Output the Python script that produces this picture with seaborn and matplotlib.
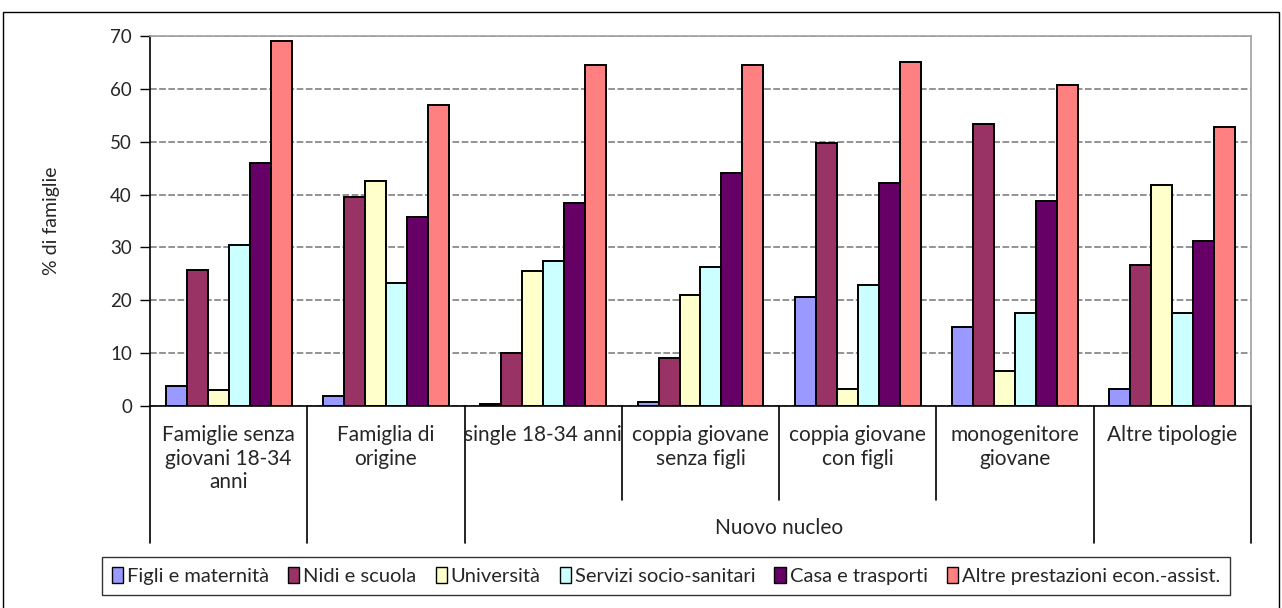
import matplotlib
matplotlib.use("Agg")
import matplotlib.pyplot as plt
import matplotlib.patches as mpatches
import matplotlib.transforms as mtransforms
import numpy as np
import pandas as pd
import seaborn as sns

categories = [
    "Famiglie senza\ngiovani 18-34\nanni",
    "Famiglia di\norigine",
    "single 18-34 anni",
    "coppia giovane\nsenza figli",
    "coppia giovane\ncon figli",
    "monogenitore\ngiovane",
    "Altre tipologie",
]
group_label = "Nuovo nucleo"
series = [
    "Figli e maternità",
    "Nidi e scuola",
    "Università",
    "Servizi socio-sanitari",
    "Casa e trasporti",
    "Altre prestazioni econ.-assist.",
]
figli_maternita = [3.8, 1.9, 0.4, 0.8, 20.7, 15.0, 3.3]
nidi_scuola = [25.7, 39.6, 10.1, 9.0, 49.7, 53.4, 26.7]
universita = [3.0, 42.6, 25.6, 21.0, 3.3, 6.7, 41.8]
servizi = [30.4, 23.3, 27.5, 26.3, 22.9, 17.6, 17.6]
casa_trasporti = [46.0, 35.8, 38.4, 44.1, 42.2, 38.8, 31.3]
altre_prestazioni = [69.0, 56.9, 64.5, 64.5, 65.1, 60.7, 52.7]
y_ticks = [0, 10, 20, 30, 40, 50, 60, 70]
y_label = "% di famiglie"

colors = ["#9999FF", "#993366", "#FFFFCC", "#CCFFFF", "#660066", "#FF8080"]

values = [figli_maternita, nidi_scuola, universita, servizi, casa_trasporti, altre_prestazioni]
df = pd.DataFrame(
    [(c, s, v) for s, vals in zip(series, values) for c, v in zip(categories, vals)],
    columns=["categoria", "serie", "valore"],
)

sns.set_style("white")
plt.rcParams["font.family"] = ["Lato", "DejaVu Sans"]

W, H = 1282, 608
fig = plt.figure(figsize=(W / 100, H / 100), dpi=100)

# outer chart frame
fig.patches.append(mpatches.Rectangle((3 / W, -0.01), 1276 / W, (H - 12) / H + 0.01,
                                      transform=fig.transFigure, fill=False,
                                      edgecolor="black", linewidth=1.0))

left, right, top, bottom = 150, 1251, 36, 406
ax = fig.add_axes([left / W, (H - bottom) / H, (right - left) / W, (bottom - top) / H])

sns.barplot(data=df, x="categoria", y="valore", hue="serie", order=categories,
            hue_order=series, palette=colors, edgecolor="black", linewidth=1.4,
            width=0.8, gap=0, saturation=1, ax=ax, legend=False, errorbar=None)

ax.set_ylim(0, 70)
ax.set_xlim(-0.5, len(categories) - 0.5)
ax.set_yticks(y_ticks)
ax.set_yticklabels([str(t) for t in y_ticks], fontsize=13.5)
ax.tick_params(axis="y", length=7, width=1, color="black", pad=6, left=True, direction="out")
ax.set_xticks([])
ax.set_xlabel("")
ax.set_ylabel(y_label, fontsize=14, labelpad=36)
ax.yaxis.grid(True, color="#808080", linestyle=(0, (4, 1.5)), linewidth=1.2)
ax.set_axisbelow(True)
for side in ["left", "bottom"]:
    ax.spines[side].set_color("black")
    ax.spines[side].set_linewidth(1.2)
for side in ["top", "right"]:
    ax.spines[side].set_visible(True)
    ax.spines[side].set_color("#A0A0A0")
    ax.spines[side].set_linewidth(1.2)

# multi-level category axis
trans = mtransforms.blended_transform_factory(ax.transData, ax.transAxes)
px = 1.0 / (bottom - top)
long_sep = [-0.5, 0.5, 1.5, 5.5, 6.5]
short_sep = [2.5, 3.5, 4.5]
for xs in long_sep:
    ax.plot([xs, xs], [0, -(543 - bottom) * px], color="black", lw=1.2,
            transform=trans, clip_on=False)
for xs in short_sep:
    ax.plot([xs, xs], [0, -(500 - bottom) * px], color="black", lw=1.2,
            transform=trans, clip_on=False)
for i, lab in enumerate(categories):
    ax.text(i, -(425 - bottom) * px, lab, transform=trans, ha="center", va="top",
            fontsize=15, linespacing=1.22)
ax.text(3.5, -(528 - bottom) * px, group_label, transform=trans, ha="center",
        va="center", fontsize=15)

handles = [mpatches.Patch(facecolor=c, edgecolor="black", linewidth=1.0) for c in colors]
leg = fig.legend(handles, series, loc="center", bbox_to_anchor=(666 / W, 1 - 576 / H),
                 ncol=6, frameon=True, fancybox=False, fontsize=14.5,
                 handlelength=0.55, handleheight=0.8, handletextpad=0.2,
                 columnspacing=0.95, borderpad=0.5)
leg.get_frame().set_edgecolor("black")
leg.get_frame().set_linewidth(1.0)

fig.savefig("out.png", dpi=100)
